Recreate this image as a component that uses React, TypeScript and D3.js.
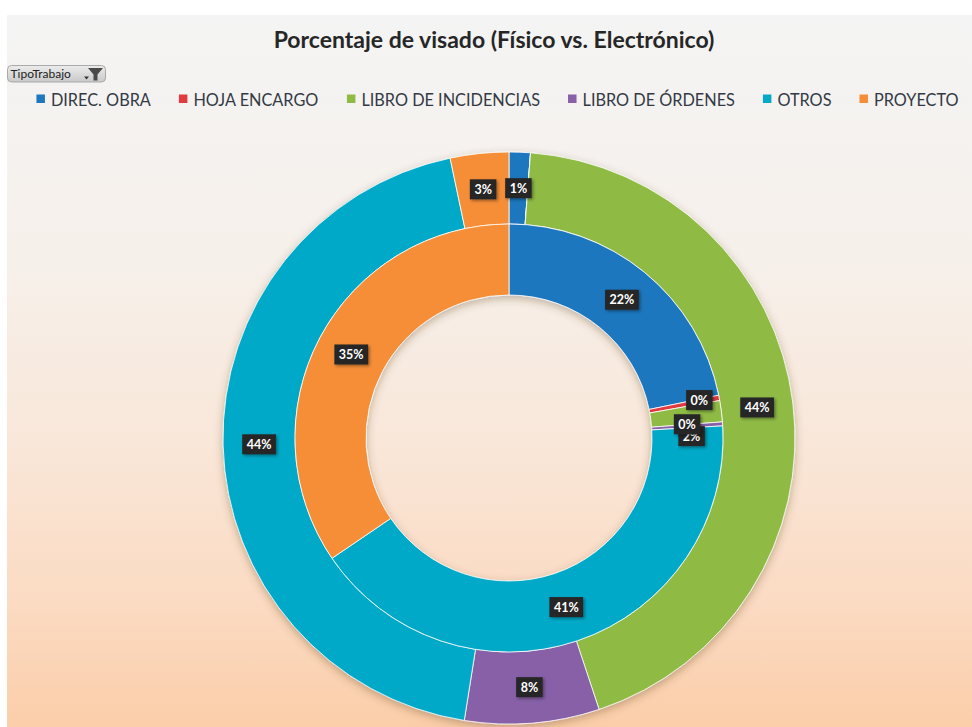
import React from 'react';
import * as d3 from 'd3';

// ---------- DATA ----------
const categories = ['DIREC. OBRA', 'HOJA ENCARGO', 'LIBRO DE INCIDENCIAS', 'LIBRO DE ÓRDENES', 'OTROS', 'PROYECTO'];
const seriesColors = ['#1f77be', '#e13a3f', '#8fbb45', '#8760a7', '#02a9c7', '#f68e37'];
// inner ring (Físico)
const innerValues = [21.8, 0.4, 1.6, 0.3, 41.4, 34.5];
const innerLabels = ['22%', '0%', '2%', '0%', '41%', '35%'];
// outer ring (Electrónico)
const outerValues = [1.2, 0, 43.7, 7.6, 44.2, 3.3];
const outerLabels = ['1%', '', '44%', '8%', '44%', '3%'];
const titleText = 'Porcentaje de visado (Físico vs. Electrónico)';
const filterText = 'TipoTrabajo';

// ---------- LAYOUT ----------
const W = 972;
const H = 727;
const cx = 509;
const cy = 438;
const r0 = 143;
const r1 = 214;
const r2 = 286;
// label nudges used by the chart tool to resolve overlapping labels
const innerNudge: [number, number][] = [[0, 0], [15, -4.5], [5.5, 20.5], [0, -2], [0, 0], [0, 0]];
const FONT = 'Lato, "Open Sans", sans-serif';

let ctx: CanvasRenderingContext2D | null = null;
function measure(text: string, font: string): number {
  if (!ctx) {
    const c = document.createElement('canvas');
    ctx = c.getContext('2d');
  }
  if (!ctx) return text.length * 8;
  ctx.font = font;
  return ctx.measureText(text).width;
}

export default function App() {
  const pie = d3.pie<number>().sort(null).value((d) => d).startAngle(0).endAngle(Math.PI * 2);
  const innerArcs = pie(innerValues);
  const outerArcs = pie(outerValues);
  const innerArc = d3.arc<d3.PieArcDatum<number>>().innerRadius(r0).outerRadius(r1);
  const outerArc = d3.arc<d3.PieArcDatum<number>>().innerRadius(r1).outerRadius(r2);

  // legend layout
  const legendSize = 16.3;
  const legendFont = `${legendSize}px ${FONT}`;
  const widths = categories.map((c) => measure(c, legendFont));
  const sq = 8.5;
  const sqGap = 6;
  const itemGap = 28;
  const total = widths.reduce((a, w) => a + sq + sqGap + w, 0) + itemGap * (categories.length - 1);
  let lx = 497.5 - total / 2;
  const legendItems = categories.map((c, i) => {
    const x = lx;
    lx += sq + sqGap + widths[i] + itemGap;
    return { c, x, color: seriesColors[i] };
  });

  const labelSize = 12.5;
  const labelFont = `bold ${labelSize}px ${FONT}`;
  const renderLabel = (text: string, x: number, y: number, key: string) => {
    if (!text) return null;
    const tw = measure(text, labelFont);
    const bw = tw + 9;
    const bh = 20;
    return (
      <g key={key} transform={`translate(${x},${y})`}>
        <rect x={-bw / 2} y={-bh / 2} width={bw} height={bh} fill="#272727" filter="url(#lblShadow)" />
        <text x={0} y={4.5} textAnchor="middle" fill="#ffffff" fontFamily={FONT} fontWeight="bold" fontSize={labelSize}>
          {text}
        </text>
      </g>
    );
  };

  return (
    <svg width={W} height={H} style={{ position: 'absolute', left: 0, top: 0 }} xmlns="http://www.w3.org/2000/svg">
      <defs>
        <linearGradient id="bg" x1="0" y1="0" x2="0" y2="1">
          <stop offset="0" stopColor="#f4f4f4" />
          <stop offset="0.35" stopColor="#f6f0ea" />
          <stop offset="0.6" stopColor="#f9e7d9" />
          <stop offset="0.82" stopColor="#fbdbc3" />
          <stop offset="1" stopColor="#fbcea9" />
        </linearGradient>
        <linearGradient id="btn" x1="0" y1="0" x2="0" y2="1">
          <stop offset="0" stopColor="#ececec" />
          <stop offset="1" stopColor="#c9c9c9" />
        </linearGradient>
        <filter id="ringShadow" x="-20%" y="-20%" width="140%" height="140%">
          <feDropShadow dx="0" dy="3" stdDeviation="4" floodColor="#5a3a20" floodOpacity="0.35" />
        </filter>
        <filter id="lblShadow" x="-30%" y="-30%" width="160%" height="160%">
          <feDropShadow dx="1.5" dy="1.5" stdDeviation="1.5" floodColor="#000" floodOpacity="0.4" />
        </filter>
      </defs>
      <rect x={0} y={0} width={W} height={H} fill="#ffffff" />
      <rect x={7} y={15} width={W - 7} height={H - 15} fill="url(#bg)" />

      <text x={494} y={48} textAnchor="middle" fontFamily={FONT} fontWeight="bold" fontSize={23} fill="#262626">
        {titleText}
      </text>

      {/* filter button */}
      <g>
        <rect x={7.5} y={65.5} width={98} height={16.5} rx={4} fill="url(#btn)" stroke="#a9a9a9" />
        <text x={10.5} y={78} fontFamily={FONT} fontSize={12} fill="#222">{filterText}</text>
        <path d="M84,76.5 l5,0 l-2.5,3 z" fill="#333" />
        <path d="M88,68 l15,0 l-5.5,6.5 l0,6 l-4,0 l0,-6 z" fill="#4a4a4a" />
      </g>

      {/* legend */}
      {legendItems.map((it) => (
        <g key={it.c}>
          <rect x={it.x} y={94.5} width={sq} height={sq} fill={it.color} />
          <text x={it.x + sq + sqGap} y={105.5} fontFamily={FONT} fontSize={legendSize} fill="#333a45">
            {it.c}
          </text>
        </g>
      ))}

      {/* donut */}
      <g transform={`translate(${cx},${cy})`}>
        <g filter="url(#ringShadow)">
          {outerArcs.map((a, i) => (
            <path key={'o' + i} d={outerArc(a) || ''} fill={seriesColors[i]} stroke="#ffffff" strokeWidth={1} strokeOpacity={0.8} />
          ))}
          {innerArcs.map((a, i) => (
            <path key={'i' + i} d={innerArc(a) || ''} fill={seriesColors[i]} stroke="#ffffff" strokeWidth={1} strokeOpacity={0.8} />
          ))}
        </g>
        {outerArcs.map((a, i) => {
          const [x, y] = outerArc.centroid(a);
          return renderLabel(outerLabels[i], x, y, 'lo' + i);
        })}
        {innerArcs.map((a, i) => {
          const [x, y] = innerArc.centroid(a);
          return renderLabel(innerLabels[i], x + innerNudge[i][0], y + innerNudge[i][1], 'li' + i);
        })}
      </g>
    </svg>
  );
}
